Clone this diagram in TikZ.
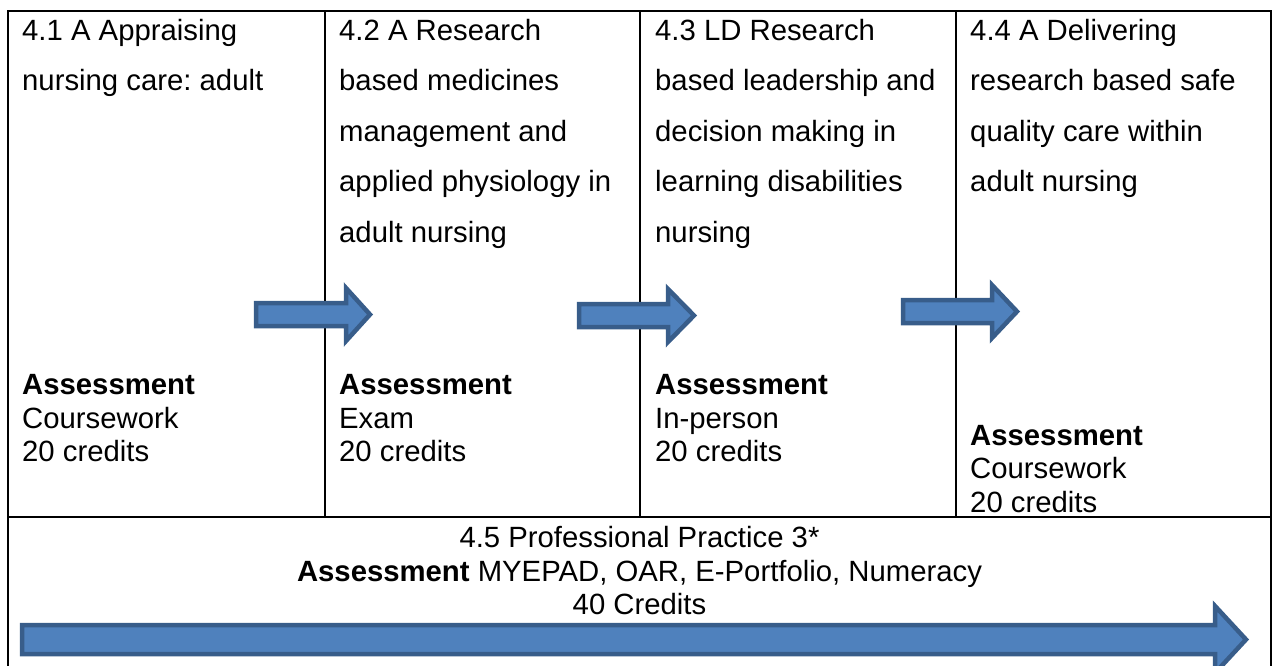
\documentclass[tikz,border=0pt]{standalone}
\usepackage{fontspec}
\setmainfont{Liberation Sans}
\frenchspacing
\definecolor{arrfill}{HTML}{4F81BD}
\definecolor{arrline}{HTML}{385D8A}
\begin{document}
\begin{tikzpicture}[x=1pt,y=-1pt,
  txt/.style={anchor=base west, inner sep=0pt, font=\fontsize{29.3}{35}\selectfont},
  ctxt/.style={anchor=base, inner sep=0pt, font=\fontsize{29.3}{35}\selectfont},
  rule/.style={line width=2.5pt},
  blockarrow/.style={fill=arrfill, draw=arrline, line width=4.5pt, line join=miter}]
\useasboundingbox (0,0) rectangle (1275,665);
% table rules
\draw[rule] (8,666) -- (8,11) -- (1271,11) -- (1271,666);
\draw[rule] (8,517) -- (1271,517);
\draw[rule] (325,11) -- (325,517);
\draw[rule] (640,11) -- (640,517);
\draw[rule] (956,11) -- (956,517);
% block arrows
\draw[blockarrow] (256,303) -- (346,303) -- (346,288) -- (370,314.5) -- (346,341) -- (346,326) -- (256,326) -- cycle;
\draw[blockarrow] (579,304) -- (668,304) -- (668,289) -- (694,315.5) -- (668,342) -- (668,327) -- (579,327) -- cycle;
\draw[blockarrow] (903,300) -- (992,300) -- (992,285) -- (1017,311.5) -- (992,338) -- (992,323) -- (903,323) -- cycle;
\draw[blockarrow] (22,625) -- (1215,625) -- (1215,606) -- (1246,639.5) -- (1215,673) -- (1215,654) -- (22,654) -- cycle;
% column titles
\foreach \t [count=\i] in {4.1 A Appraising, nursing care: adult}
  \node[txt] (ca\i) at ({22},{40+50.5*(\i-1)}) {\t};
\foreach \t [count=\i] in {4.2 A Research, based medicines, management and, applied physiology in, adult nursing}
  \node[txt] (cb\i) at ({339},{40+50.5*(\i-1)}) {\t};
\foreach \t [count=\i] in {4.3 LD Research, based leadership and, decision making in, learning disabilities, nursing}
  \node[txt] (cc\i) at ({655},{40+50.5*(\i-1)}) {\t};
\foreach \t [count=\i] in {4.4 A Delivering, research based safe, quality care within, adult nursing}
  \node[txt] (cd\i) at ({970},{40+50.5*(\i-1)}) {\t};
% assessments
\node[txt] (aa1) at (22,394.5) {\textbf{Assessment}};
\node[txt] (aa2) at (22,428) {Coursework};
\node[txt] (aa3) at (22,461.5) {20 credits};
\node[txt] (ab1) at (339,394.5) {\textbf{Assessment}};
\node[txt] (ab2) at (339,428) {Exam};
\node[txt] (ab3) at (339,461.5) {20 credits};
\node[txt] (ac1) at (655,394.5) {\textbf{Assessment}};
\node[txt] (ac2) at (655,428) {In-person};
\node[txt] (ac3) at (655,461.5) {20 credits};
\node[txt] (ad1) at (970,445.5) {\textbf{Assessment}};
\node[txt] (ad2) at (970,478.5) {Coursework};
\node[txt] (ad3) at (970,512) {20 credits};
% bottom row
\node[ctxt] (p1) at (639.5,547.5) {4.5 Professional Practice 3*};
\node[ctxt] (p2) at (639.5,581) {\textbf{Assessment} MYEPAD, OAR, E-Portfolio, Numeracy};
\node[ctxt] (p3) at (639.5,614.5) {40 Credits};
\end{tikzpicture}
\end{document}
